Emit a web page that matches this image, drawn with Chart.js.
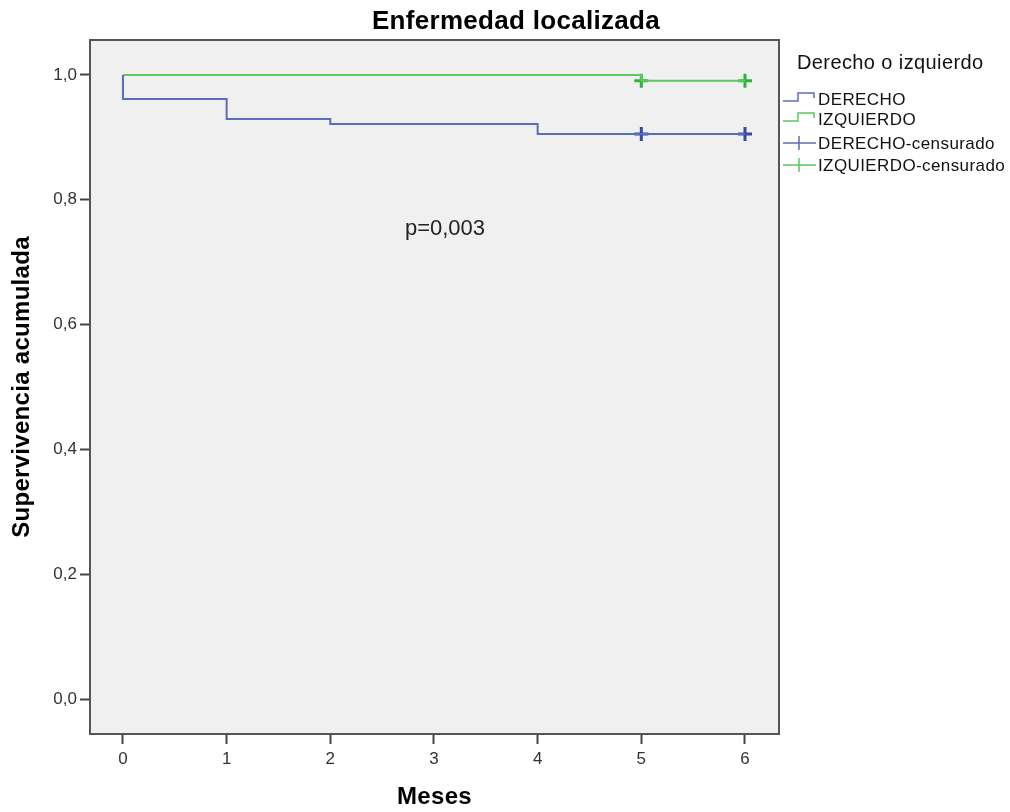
<!DOCTYPE html>
<html><head><meta charset="utf-8">
<script src="https://cdn.jsdelivr.net/npm/chart.js@4/dist/chart.umd.min.js"></script>
<style>html,body{margin:0;padding:0;background:#fff}#wrap{width:1010px;height:812px;position:relative}</style>
</head><body><div id="wrap"><canvas id="c" width="1010" height="812"></canvas></div>
<script>
const title = "Enfermedad localizada";
const xTitle = "Meses";
const yTitle = "Supervivencia acumulada";
const legendTitle = "Derecho o izquierdo";
const seriesNames = ["DERECHO", "IZQUIERDO"];
const censorNames = ["DERECHO-censurado", "IZQUIERDO-censurado"];
const annotationText = "p=0,003";
const annotationPos = [3.106, 0.753];
const xTicks = [0, 1, 2, 3, 4, 5, 6];
const yTicks = [0, 0.2, 0.4, 0.6, 0.8, 1.0];
const derechoTimes = [0, 0, 1, 2, 4, 6];
const derechoSurv  = [1.0, 0.9615, 0.9295, 0.9215, 0.9054, 0.9054];
const izquierdoTimes = [0, 5, 6];
const izquierdoSurv  = [1.0, 0.9909, 0.9909];
const derechoCensTimes = [5, 6];
const derechoCensSurv  = [0.9054, 0.9054];
const izquierdoCensTimes = [5, 6];
const izquierdoCensSurv  = [0.9909, 0.9909];

const blueLine = '#5a6dbb', greenLine = '#5ec862';
const blueMark = '#3448a6', greenMark = '#2fb23a';
const FONT = "'Liberation Sans', Arial, sans-serif";
const NARROW = "'Liberation Sans Narrow', 'Arial Narrow', 'Liberation Sans', sans-serif";
const toPts = (xs, ys) => xs.map((x, i) => ({x, y: ys[i]}));

const decor = {
  id: 'decor',
  beforeDraw(chart) {
    const {ctx, chartArea: a} = chart;
    ctx.save();
    ctx.fillStyle = '#f0f0f0';
    ctx.fillRect(a.left, a.top, a.right - a.left, a.bottom - a.top);
    ctx.restore();
  },
  afterDraw(chart) {
    const {ctx, chartArea: a, scales} = chart;
    ctx.save();
    ctx.strokeStyle = '#555';
    ctx.lineWidth = 2;
    ctx.strokeRect(a.left, a.top, a.right - a.left, a.bottom - a.top);
    ctx.fillStyle = '#000';
    ctx.textAlign = 'center'; ctx.textBaseline = 'middle';
    ctx.letterSpacing = '0.3px';
    ctx.font = "bold 26px " + FONT;
    ctx.fillText(title, 516, 22);
    ctx.font = "bold 24px " + FONT;
    ctx.fillText(xTitle, (a.left + a.right) / 2, 797);
    ctx.save();
    ctx.translate(22, (a.top + a.bottom) / 2);
    ctx.rotate(-Math.PI / 2);
    ctx.fillText(yTitle, 0, 0);
    ctx.restore();
    ctx.letterSpacing = '0px';
    ctx.font = "22px " + FONT;
    ctx.fillStyle = '#222';
    ctx.fillText(annotationText, scales.x.getPixelForValue(annotationPos[0]), scales.y.getPixelForValue(annotationPos[1]));
    // legend
    ctx.textAlign = 'left';
    ctx.letterSpacing = '0.4px';
    ctx.font = "20px " + FONT;
    ctx.fillStyle = '#111';
    ctx.fillText(legendTitle, 797, 63);
    ctx.font = "17px " + FONT;
    const rows = [99, 119, 143, 165];
    const cols = [blueLine, greenLine, blueLine, greenLine];
    const labels = [seriesNames[0], seriesNames[1], censorNames[0], censorNames[1]];
    rows.forEach((yy, i) => {
      ctx.strokeStyle = cols[i];
      ctx.lineWidth = 1.5;
      ctx.beginPath();
      if (i < 2) {
        ctx.moveTo(783, yy + 2); ctx.lineTo(798, yy + 2); ctx.lineTo(798, yy - 6);
        ctx.lineTo(814, yy - 6); ctx.lineTo(814, yy - 1);
      } else {
        ctx.moveTo(783, yy); ctx.lineTo(816, yy);
        ctx.moveTo(799, yy - 7); ctx.lineTo(799, yy + 7);
      }
      ctx.stroke();
      ctx.fillStyle = '#111';
      ctx.fillText(labels[i], 818, yy + 1);
    });
    ctx.restore();
  }
};

new Chart(document.getElementById('c'), {
  type: 'line',
  data: {
    datasets: [
      {label: seriesNames[0], data: toPts(derechoTimes, derechoSurv), borderColor: blueLine, borderWidth: 2, stepped: true, pointRadius: 0, fill: false},
      {label: seriesNames[1], data: toPts(izquierdoTimes, izquierdoSurv), borderColor: greenLine, borderWidth: 2, stepped: true, pointRadius: 0, fill: false},
      {label: censorNames[0], data: toPts(derechoCensTimes, derechoCensSurv), showLine: false, pointStyle: 'cross', pointRadius: 7, borderColor: blueMark, pointBorderWidth: 3},
      {label: censorNames[1], data: toPts(izquierdoCensTimes, izquierdoCensSurv), showLine: false, pointStyle: 'cross', pointRadius: 7, borderColor: greenMark, pointBorderWidth: 3}
    ]
  },
  options: {
    responsive: false, animation: false,
    layout: {padding: {left: 0, top: 40, right: 231, bottom: 0}},
    plugins: {legend: {display: false}, tooltip: {enabled: false}, title: {display: false}},
    scales: {
      x: {
        type: 'linear', min: -0.318, max: 6.328,
        afterBuildTicks: s => { s.ticks = xTicks.map(v => ({value: v})); },
        afterFit: s => { s.height = 78; },
        grid: {drawOnChartArea: false, tickLength: 10, tickColor: '#444', tickWidth: 2},
        border: {display: true, color: '#555', width: 2},
        ticks: {color: '#333', font: {family: NARROW, size: 17}, padding: 5, maxRotation: 0, callback: v => String(v)}
      },
      y: {
        type: 'linear', min: -0.056, max: 1.056,
        afterBuildTicks: s => { s.ticks = yTicks.map(v => ({value: v})); },
        afterFit: s => { s.width = 90; },
        grid: {drawOnChartArea: false, tickLength: 10, tickColor: '#444', tickWidth: 2},
        border: {display: true, color: '#555', width: 2},
        ticks: {color: '#333', font: {family: NARROW, size: 17}, padding: 3, callback: v => v.toFixed(1).replace('.', ',')}
      }
    }
  },
  plugins: [decor]
});
</script></body></html>
